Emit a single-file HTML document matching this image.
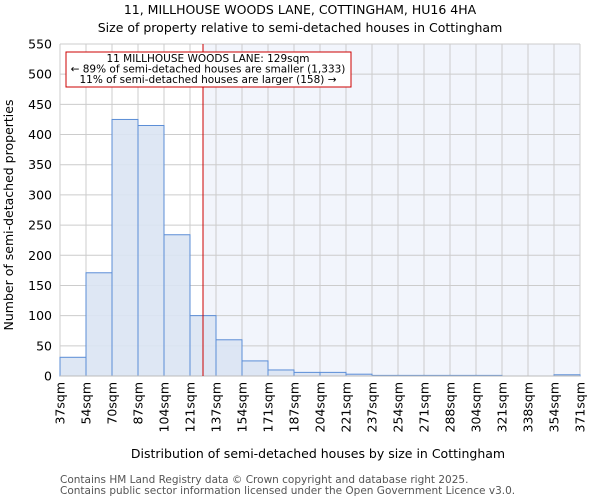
<!DOCTYPE html>
<html><head><meta charset="utf-8"><style>
body{margin:0;background:#fff;font-family:"DejaVu Sans","Liberation Sans",sans-serif;}
svg text{font-family:"DejaVu Sans","Liberation Sans",sans-serif;}
</style></head><body>
<svg id="chart" width="600" height="500" xmlns="http://www.w3.org/2000/svg">
<text x="300" y="14" text-anchor="middle" font-size="12.5">11, MILLHOUSE WOODS LANE, COTTINGHAM, HU16 4HA</text>
<text x="300" y="32" text-anchor="middle" font-size="12.5">Size of property relative to semi-detached houses in Cottingham</text>
<g id="grid"></g>
<g id="bars"></g>
<g id="axes"></g>
<text x="318" y="458" text-anchor="middle" font-size="12.5">Distribution of semi-detached houses by size in Cottingham</text>
<text transform="translate(13,215) rotate(-90)" text-anchor="middle" font-size="12.5">Number of semi-detached properties</text>
<text x="60" y="483" font-size="10.5" fill="#555">Contains HM Land Registry data © Crown copyright and database right 2025.</text>
<text x="60" y="494" font-size="10.5" fill="#555">Contains public sector information licensed under the Open Government Licence v3.0.</text>
</svg>
<script>
const binEdges=[37,54,70,87,104,121,137,154,171,187,204,221,237,254,271,288,304,321,338,354,371];
const counts=[31,171,425,415,234,100,60,25,10,6,6,3,1,1,1,1,1,0,0,2];
const yTicks=[0,50,100,150,200,250,300,350,400,450,500,550];
const subjectSize=129;
const annotationLines=["11 MILLHOUSE WOODS LANE: 129sqm","← 89% of semi-detached houses are smaller (1,333)","11% of semi-detached houses are larger (158) →"];
const X0=60,X1=580,Y0=376,Y1=44,N=counts.length;
const xi=i=>X0+i*(X1-X0)/N;
const xv=v=>{for(let i=0;i<N;i++){if(v<=binEdges[i+1])return xi(i)+(v-binEdges[i])/(binEdges[i+1]-binEdges[i])*(xi(i+1)-xi(i));}return X1;};
const y=v=>Y0-v/550*(Y0-Y1);
const NS="http://www.w3.org/2000/svg";
function mk(t,a,p){const e=document.createElementNS(NS,t);for(const k in a)e.setAttribute(k,a[k]);p.appendChild(e);return e;}
const grid=document.getElementById('grid'),bars=document.getElementById('bars'),axes=document.getElementById('axes');
const sx=xv(subjectSize);
const shade=mk('rect',{x:sx,y:Y1,width:X1-sx,height:Y0-Y1,fill:'#f2f5fc'},grid);


for(let i=0;i<=N;i++){const l=mk('line',{x1:xi(i),x2:xi(i),y1:Y1,y2:Y0,stroke:'#cccccc','stroke-width':1},grid);

}
yTicks.forEach(t=>{const l=mk('line',{x1:X0,x2:X1,y1:y(t),y2:y(t),stroke:'#cccccc','stroke-width':1},grid);


const tx=mk('text',{x:X0-8,y:y(t)+4.5,'text-anchor':'end','font-size':'12.5'},axes);tx.textContent=t;

});
counts.forEach((c,i)=>{const r=mk('rect',{x:xi(i),y:y(c),width:xi(i+1)-xi(i),height:Y0-y(c),fill:'#dae4f3',stroke:'#5b8dd6','stroke-width':1,'fill-opacity':0.9},bars);

});
binEdges.forEach((b,i)=>{const tx=mk('text',{transform:`translate(${xi(i)+4.5},382) rotate(-90)`,'text-anchor':'end','font-size':'12.5'},axes);tx.textContent=b+'sqm';

});
const ax=mk('line',{x1:X0,x2:X1,y1:Y0,y2:Y0,stroke:'#bbb'},axes);


const rl=mk('line',{x1:sx,x2:sx,y1:Y1,y2:Y0,stroke:'#cc0000','stroke-width':1},axes);


const box=mk('rect',{x:66,y:52,width:285,height:35,fill:'#fff',stroke:'#cc0000','stroke-width':1},axes);


annotationLines.forEach((s,i)=>{const tx=mk('text',{x:208,y:62+i*10.5,'text-anchor':'middle','font-size':'10.5'},axes);tx.textContent=s;

});
</script>
</body></html>
